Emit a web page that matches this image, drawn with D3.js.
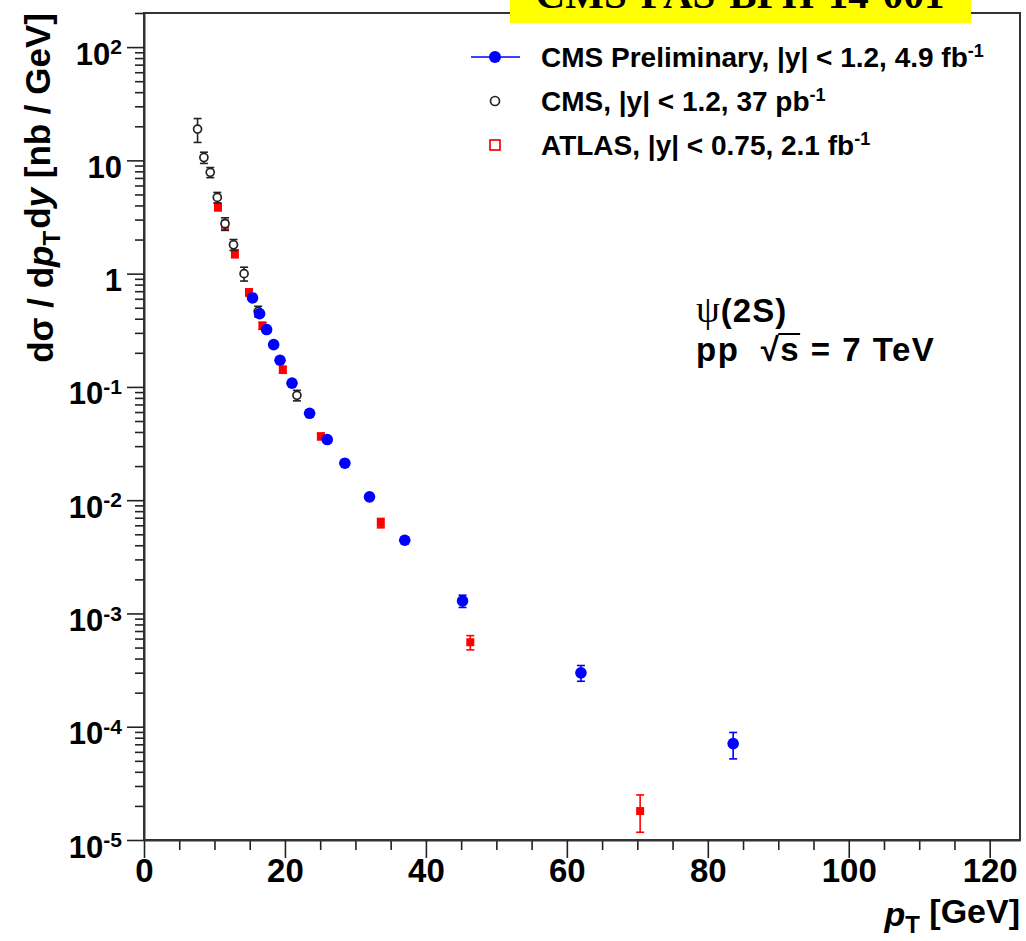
<!DOCTYPE html>
<html>
<head>
<meta charset="utf-8">
<script src="https://cdn.jsdelivr.net/npm/d3@7"></script>
<style>
body { margin: 0; background: #fff; }
text { font-family: "Liberation Sans", Arial, sans-serif; font-weight: bold; fill: #000; }
</style>
</head>
<body>
<div id="chart"></div>
<script>
// CMS preliminary, |y| < 1.2, 4.9 fb-1
const cmsPrelimPt = [15.4, 16.4, 17.4, 18.4, 19.3, 21.0, 23.5, 26.0, 28.5, 32.0, 37.0, 45.2, 62.0, 83.6];
const cmsPrelimXs = [0.61, 0.443, 0.321, 0.236, 0.172, 0.108, 0.0585, 0.0343, 0.0212, 0.0107, 0.00443, 0.00129, 2.99e-4, 7.1e-5];
const cmsPrelimErrLo = [0.02, 0.015, 0.01, 0.008, 0.006, 0.004, 0.002, 0.0012, 0.0008, 0.0004, 0.0003, 0.00016, 0.47e-4, 1.9e-5];
const cmsPrelimErrHi = [0.02, 0.015, 0.01, 0.008, 0.006, 0.004, 0.002, 0.0012, 0.0008, 0.0004, 0.0003, 0.00016, 0.48e-4, 1.8e-5];

// CMS, |y| < 1.2, 37 pb-1
const cmsPt = [7.6, 8.5, 9.4, 10.4, 11.5, 12.7, 14.2, 16.2, 21.7];
const cmsXs = [18.9, 10.6, 7.84, 4.71, 2.76, 1.80, 1.00, 0.465, 0.0843];
const cmsErrLo = [4.5, 1.2, 0.8, 0.5, 0.35, 0.2, 0.14, 0.05, 0.009];
const cmsErrHi = [4.5, 1.2, 0.8, 0.5, 0.35, 0.2, 0.14, 0.05, 0.009];

// ATLAS, |y| < 0.75, 2.1 fb-1
const atlasPt = [10.5, 11.5, 12.9, 14.9, 16.8, 19.7, 25.1, 33.6, 46.3, 70.4];
const atlasXs = [3.88, 2.71, 1.50, 0.684, 0.347, 0.142, 0.0366, 0.0063, 5.57e-4, 1.8e-5];
const atlasErrLo = [0.3, 0.25, 0.12, 0.05, 0.025, 0.01, 0.0025, 0.0006, 0.00008, 0.63e-5];
const atlasErrHi = [0.3, 0.25, 0.12, 0.05, 0.025, 0.01, 0.0025, 0.0006, 0.00008, 0.7e-5];

// ticks
const xMajorTicks = [0, 20, 40, 60, 80, 100, 120];
const yExponents = [-5, -4, -3, -2, -1, 0, 1, 2];

const width = 1026;
const height = 941;
const margin = { top: 13, right: 6, bottom: 101, left: 144 };

const svg = d3.select("#chart")
    .append("svg")
    .attr("width", width)
    .attr("height", height);

// scales
const x = d3.scaleLinear()
    .domain([0, 124.3])
    .range([margin.left, width - margin.right]);

const y = d3.scaleLog()
    .domain([1e-5, 200])
    .range([height - margin.bottom, margin.top]);

// frame
svg.append("rect")
    .attr("x", margin.left)
    .attr("y", margin.top)
    .attr("width", width - margin.right - margin.left)
    .attr("height", height - margin.bottom - margin.top)
    .attr("fill", "none")
    .attr("stroke", "#333")
    .attr("stroke-width", 2);

// x axis: minor ticks every 5, major every 20
const xMinor = d3.range(0, 125, 5).filter(v => v % 20 !== 0);
svg.append("g")
    .attr("transform", `translate(0, ${height - margin.bottom})`)
    .call(d3.axisBottom(x).tickValues(xMinor).tickSize(10).tickSizeOuter(0).tickFormat(""))
    .call(g => g.select(".domain").remove());

const xAxis = svg.append("g")
    .attr("transform", `translate(0, ${height - margin.bottom})`)
    .call(d3.axisBottom(x).tickValues(xMajorTicks).tickSize(18).tickPadding(1).tickSizeOuter(0));
xAxis.select(".domain").attr("stroke", "#333").attr("stroke-width", 2);
xAxis.selectAll(".tick text")
    .style("font-size", "33px")
    .style("font-family", "'Liberation Sans', Arial, sans-serif")
    .style("font-weight", "bold");

// y axis: decades + minor 2..9
const yMajor = yExponents.map(e => Math.pow(10, e));
const yMinor = [];
yExponents.forEach(e => {
    for (let k = 2; k <= 9; k++) {
        const v = k * Math.pow(10, e);
        if (v <= 200) yMinor.push(v);
    }
});

svg.append("g")
    .attr("transform", `translate(${margin.left}, 0)`)
    .call(d3.axisLeft(y).tickValues(yMinor).tickSize(9).tickSizeOuter(0).tickFormat(""))
    .call(g => g.select(".domain").remove());

const yAxis = svg.append("g")
    .attr("transform", `translate(${margin.left}, 0)`)
    .call(d3.axisLeft(y).tickValues(yMajor).tickSize(17).tickPadding(5).tickSizeOuter(0).tickFormat(""));
yAxis.select(".domain").attr("stroke", "#333").attr("stroke-width", 2);

yAxis.selectAll(".tick text").each(function (d) {
    const e = Math.round(Math.log10(d));
    const t = d3.select(this)
        .attr("dy", "0.55em")
        .style("font-size", "31px")
        .style("font-family", "'Liberation Sans', Arial, sans-serif")
        .style("font-weight", "bold");
    if (e === 0) { t.text("1"); return; }
    if (e === 1) { t.text("10"); return; }
    t.append("tspan").text("10");
    t.append("tspan").attr("dy", "-0.5em").style("font-size", "21px").text(e);
});

svg.selectAll(".tick line").attr("stroke", "#222").attr("stroke-width", 1.6);

// error bars + markers
function drawSeries(pt, xs, lo, hi, color) {
    const pts = pt.map((p, i) => ({ p: p, v: xs[i], lo: xs[i] - lo[i], hi: xs[i] + hi[i] }));
    const g = svg.append("g");
    g.selectAll(".err")
        .data(pts)
        .enter()
        .append("line")
        .attr("x1", d => x(d.p))
        .attr("x2", d => x(d.p))
        .attr("y1", d => y(d.lo))
        .attr("y2", d => y(d.hi))
        .attr("stroke", color)
        .attr("stroke-width", 1.6);
    [d => y(d.lo), d => y(d.hi)].forEach(fy => {
        g.selectAll(null)
            .data(pts)
            .enter()
            .append("line")
            .attr("x1", d => x(d.p) - 4)
            .attr("x2", d => x(d.p) + 4)
            .attr("y1", fy)
            .attr("y2", fy)
            .attr("stroke", color)
            .attr("stroke-width", 1.6);
    });
    return { g: g, pts: pts };
}

const atlas = drawSeries(atlasPt, atlasXs, atlasErrLo, atlasErrHi, "#f00");
atlas.g.selectAll(".sq")
    .data(atlas.pts)
    .enter()
    .append("rect")
    .attr("x", d => x(d.p) - 4)
    .attr("y", d => y(d.v) - 4)
    .attr("width", 8)
    .attr("height", 8)
    .attr("fill", "#f00");

const cms = drawSeries(cmsPt, cmsXs, cmsErrLo, cmsErrHi, "#222");
cms.g.selectAll(".oc")
    .data(cms.pts)
    .enter()
    .append("circle")
    .attr("cx", d => x(d.p))
    .attr("cy", d => y(d.v))
    .attr("r", 4)
    .attr("fill", "#fff")
    .attr("stroke", "#222")
    .attr("stroke-width", 1.7);

const prelim = drawSeries(cmsPrelimPt, cmsPrelimXs, cmsPrelimErrLo, cmsPrelimErrHi, "#00f");
prelim.g.selectAll(".fc")
    .data(prelim.pts)
    .enter()
    .append("circle")
    .attr("cx", d => x(d.p))
    .attr("cy", d => y(d.v))
    .attr("r", 5.8)
    .attr("fill", "#00f");

// axis titles
const yTitle = svg.append("text")
    .attr("transform", "translate(53, 13) rotate(-90)")
    .attr("text-anchor", "end")
    .style("font-size", "35px");
yTitle.append("tspan").text("dσ / d");
yTitle.append("tspan").style("font-style", "italic").text("p");
yTitle.append("tspan").attr("dy", "0.3em").style("font-size", "24px").text("T");
yTitle.append("tspan").attr("dy", "-0.3em").attr("dx", 2).text("d");
yTitle.append("tspan").style("font-style", "italic").text("y");
yTitle.append("tspan").text(" [nb / GeV]");

const xTitle = svg.append("text")
    .attr("x", 1020)
    .attr("y", 926)
    .attr("text-anchor", "end")
    .style("font-size", "34px")
    .style("white-space", "pre");
xTitle.append("tspan").style("font-style", "italic").text("p");
xTitle.append("tspan").attr("dy", "0.3em").style("font-size", "24px").text("T");
xTitle.append("tspan").attr("dy", "-0.3em").text(" [GeV]");

// legend
const legendRows = [
    { y: 57, label: "CMS Preliminary, |y| < 1.2, 4.9 fb" },
    { y: 101, label: "CMS, |y| < 1.2, 37 pb" },
    { y: 145, label: "ATLAS, |y| < 0.75, 2.1 fb" }
];
svg.append("line")
    .attr("x1", 471).attr("x2", 520)
    .attr("y1", legendRows[0].y).attr("y2", legendRows[0].y)
    .attr("stroke", "#00f").attr("stroke-width", 1.6);
svg.append("circle")
    .attr("cx", 495).attr("cy", legendRows[0].y).attr("r", 6).attr("fill", "#00f");
svg.append("circle")
    .attr("cx", 495).attr("cy", legendRows[1].y).attr("r", 4.5)
    .attr("fill", "none").attr("stroke", "#222").attr("stroke-width", 1.7);
svg.append("rect")
    .attr("x", 490).attr("y", legendRows[2].y - 5).attr("width", 10).attr("height", 10)
    .attr("fill", "none").attr("stroke", "#f00").attr("stroke-width", 1.7);

legendRows.forEach(r => {
    const t = svg.append("text")
        .attr("x", 541)
        .attr("y", r.y + 10)
        .style("font-size", "28px");
    t.append("tspan").text(r.label);
    t.append("tspan").attr("dy", "-0.55em").style("font-size", "18px").text("-1");
});

// annotation
svg.append("text")
    .attr("x", 696).attr("y", 322)
    .style("font-size", "33px")
    .style("letter-spacing", "1px")
    .call(t => {
        t.append("tspan").style("font-family", "'Liberation Serif', serif").style("font-weight", "normal")
            .style("font-size", "38px").text("ψ");
        t.append("tspan").text("(2S)");
    });
const sqrtText = svg.append("text")
    .attr("x", 696).attr("y", 361)
    .style("font-size", "33px")
    .style("white-space", "pre")
    .style("letter-spacing", "1.5px")
    .text("pp  √s = 7 TeV");
// bar of the square root over "s"
const sqNode = sqrtText.node();
const rootBox = sqNode.getExtentOfChar(4);
const sEnd = sqNode.getEndPositionOfChar(5);
svg.append("line")
    .attr("x1", rootBox.x + rootBox.width - 2)
    .attr("x2", sEnd.x)
    .attr("y1", rootBox.y + 3)
    .attr("y2", rootBox.y + 3)
    .attr("stroke", "#000")
    .attr("stroke-width", 2);

// banner at the top
svg.append("rect")
    .attr("x", 510).attr("y", 0)
    .attr("width", 461).attr("height", 23)
    .attr("fill", "#ff0");
svg.append("text")
    .attr("x", 740).attr("y", 8)
    .attr("text-anchor", "middle")
    .attr("textLength", 409)
    .style("font-family", "'Liberation Serif', 'Times New Roman', serif")
    .style("font-size", "41px")
    .text("CMS-PAS-BPH-14-001");
</script>
</body>
</html>
